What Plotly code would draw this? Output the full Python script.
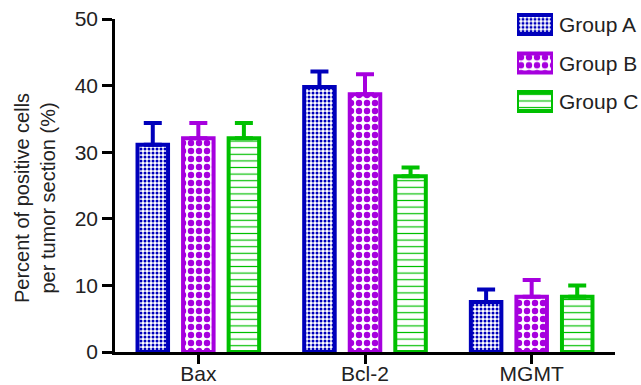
import plotly.graph_objects as go

categories = ["Bax", "Bcl-2", "MGMT"]
groups = ["Group A", "Group B", "Group C"]
values_a = [31.1, 39.8, 7.5]
values_b = [32.1, 38.7, 8.3]
values_c = [32.1, 26.4, 8.3]
err_a = [3.3, 2.3, 1.9]
err_b = [2.3, 3.0, 2.5]
err_c = [2.3, 1.3, 1.7]
y_ticks = [0, 10, 20, 30, 40, 50]

colors = ["#0000BB", "#A600DE", "#00C000"]
patterns = [
    dict(shape=".", size=4, solidity=0.45, fgcolor=colors[0], bgcolor="white", fillmode="replace"),
    dict(shape=".", size=8, solidity=0.5, fgcolor=colors[1], bgcolor="white", fillmode="replace"),
    dict(shape="-", size=6.6, solidity=0.18, fgcolor=colors[2], bgcolor="white", fillmode="replace"),
]
series = [values_a, values_b, values_c]
errors = [err_a, err_b, err_c]

FONT = "Liberation Sans, Arial, Helvetica, sans-serif"
TXT = "#222222"

fig = go.Figure()
for i in range(3):
    fig.add_trace(go.Bar(
        x=categories, y=series[i], name=groups[i],
        marker=dict(color="white", pattern=patterns[i], line=dict(color=colors[i], width=4)),
        error_y=dict(type="data", symmetric=False, array=errors[i], arrayminus=[0] * len(errors[i]),
                     color=colors[i], thickness=4, width=9),
        showlegend=False, xaxis="x", yaxis="y",
    ))

# legend keys as patterned rectangles on a small auxiliary axis pair
for i in range(3):
    fig.add_trace(go.Bar(
        x=[1], y=[i], base=[0], orientation="h", width=0.49,
        marker=dict(color="white", pattern=patterns[i], line=dict(color=colors[i], width=4)),
        showlegend=False, xaxis="x2", yaxis="y2", hoverinfo="skip",
    ))
    fig.add_annotation(
        x=0.884, y=i, xref="paper", yref="y2", text=groups[i], showarrow=False,
        xanchor="left", yanchor="middle", font=dict(family=FONT, size=21, color=TXT),
    )

fig.add_annotation(
    x=-0.16, y=0.4375, xref="paper", yref="paper", textangle=-90,
    text="Percent of positive cells<br>per tumor section (%)", showarrow=False,
    xanchor="center", yanchor="middle", font=dict(family=FONT, size=20, color=TXT),
)

fig.update_layout(
    width=641, height=385,
    margin=dict(l=115, r=26, t=0, b=33, pad=0),
    paper_bgcolor="white", plot_bgcolor="white",
    barmode="group", bargap=0.18, bargroupgap=0.33,
    font=dict(family=FONT, size=21, color=TXT),
    xaxis=dict(domain=[0, 1], range=[-0.5, 2.5], showline=True, linecolor="black", linewidth=2.5,
               ticks="outside", ticklen=9, tickwidth=2.5, tickcolor="black", automargin=False,
               ticklabelstandoff=-8,
               showgrid=False, zeroline=False, tickfont=dict(size=21, color=TXT)),
    yaxis=dict(domain=[0, 333 / 352], range=[0, 50], tickvals=y_ticks, showline=True,
               linecolor="black", linewidth=2.5, ticks="outside", ticklen=10, tickwidth=2.5,
               tickcolor="black", showgrid=False, zeroline=False, automargin=False,
               tickfont=dict(size=21, color=TXT)),
    xaxis2=dict(domain=[0.804, 0.876], range=[0, 1], anchor="y2", visible=False, fixedrange=True),
    yaxis2=dict(domain=[0.657, 0.985], range=[2.5, -0.5], anchor="x2", visible=False, fixedrange=True),
)

fig.write_html("out.html")
